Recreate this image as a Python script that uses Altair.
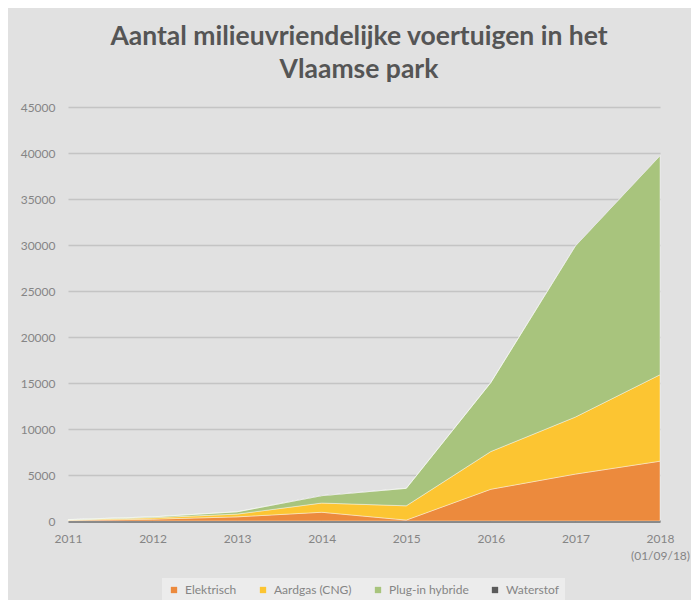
import altair as alt
import pandas as pd

years = [2011, 2012, 2013, 2014, 2015, 2016, 2017, 2018]
series = ["Elektrisch", "Aardgas (CNG)", "Plug-in hybride", "Waterstof"]
elektrisch = [50, 200, 450, 950, 100, 3450, 5100, 6500]
aardgas = [50, 150, 300, 1000, 1550, 4100, 6200, 9400]
plugin = [50, 100, 250, 800, 1900, 7500, 18600, 23800]
waterstof = [5, 5, 5, 10, 10, 15, 20, 30]
colors = ["#ec8a3d", "#fcc532", "#a8c47d", "#5b5b5b"]
y_ticks = [0, 5000, 10000, 15000, 20000, 25000, 30000, 35000, 40000, 45000]
title_lines = ["Aantal milieuvriendelijke voertuigen in het", "Vlaamse park"]

rows = []
for idx, (name, vals) in enumerate(zip(series, [elektrisch, aardgas, plugin, waterstof])):
    for yr, v in zip(years, vals):
        rows.append({"year": yr, "series": name, "value": v, "idx": idx})
df = pd.DataFrame(rows)

chart = alt.Chart(df).mark_area(
    interpolate="linear", stroke="#ffffff", strokeOpacity=0.4, strokeWidth=1
).encode(
    x=alt.X("year:Q", scale=alt.Scale(domain=[2011, 2018], nice=False, zero=False),
            axis=alt.Axis(title=None, values=years, format="d", grid=False, ticks=False,
                          domain=True, domainColor="#6e6e6e", domainWidth=2.5,
                          labelPadding=12, labelFont="Lato", labelFontSize=12,
                          labelColor="#858585", labelLineHeight=17, labelFlush=False,
                          labelExpr="datum.value == 2018 ? ['2018', '(01/09/18)'] : datum.label")),
    y=alt.Y("value:Q", stack="zero", scale=alt.Scale(domain=[0, 45000], nice=False),
            axis=alt.Axis(title=None, values=y_ticks, format="d", grid=True, gridColor="#c4c4c4",
                          gridWidth=1.5, ticks=False, domain=False, labelPadding=13,
                          labelFont="Lato", labelFontSize=12, labelColor="#858585")),
    color=alt.Color("series:N", scale=alt.Scale(domain=series, range=colors),
                    legend=alt.Legend(title=None, orient="none", direction="horizontal",
                                      legendX=94, legendY=471, padding=6,
                                      fillColor="#ececec", symbolType="square",
                                      symbolSize=40, symbolStrokeWidth=0,
                                      labelFont="Lato", labelFontSize=12,
                                      labelColor="#858585", columnPadding=20,
                                      labelOffset=5)),
    order=alt.Order("idx:Q", sort="ascending"),
).properties(
    width=592, height=414,
    autosize=alt.AutoSizeParams(type="none"),
    padding={"left": 60, "top": 99, "right": 31, "bottom": 79},
    background="#e1e1e1",
    title=alt.TitleParams(text=title_lines, font="Lato", fontSize=26.5, fontWeight="bold",
                          color="#555555", anchor="middle", dx=-5, offset=18, lineHeight=33),
).configure_view(stroke=None)

chart.save("out.html", embed_options={"renderer": "svg", "actions": False})
